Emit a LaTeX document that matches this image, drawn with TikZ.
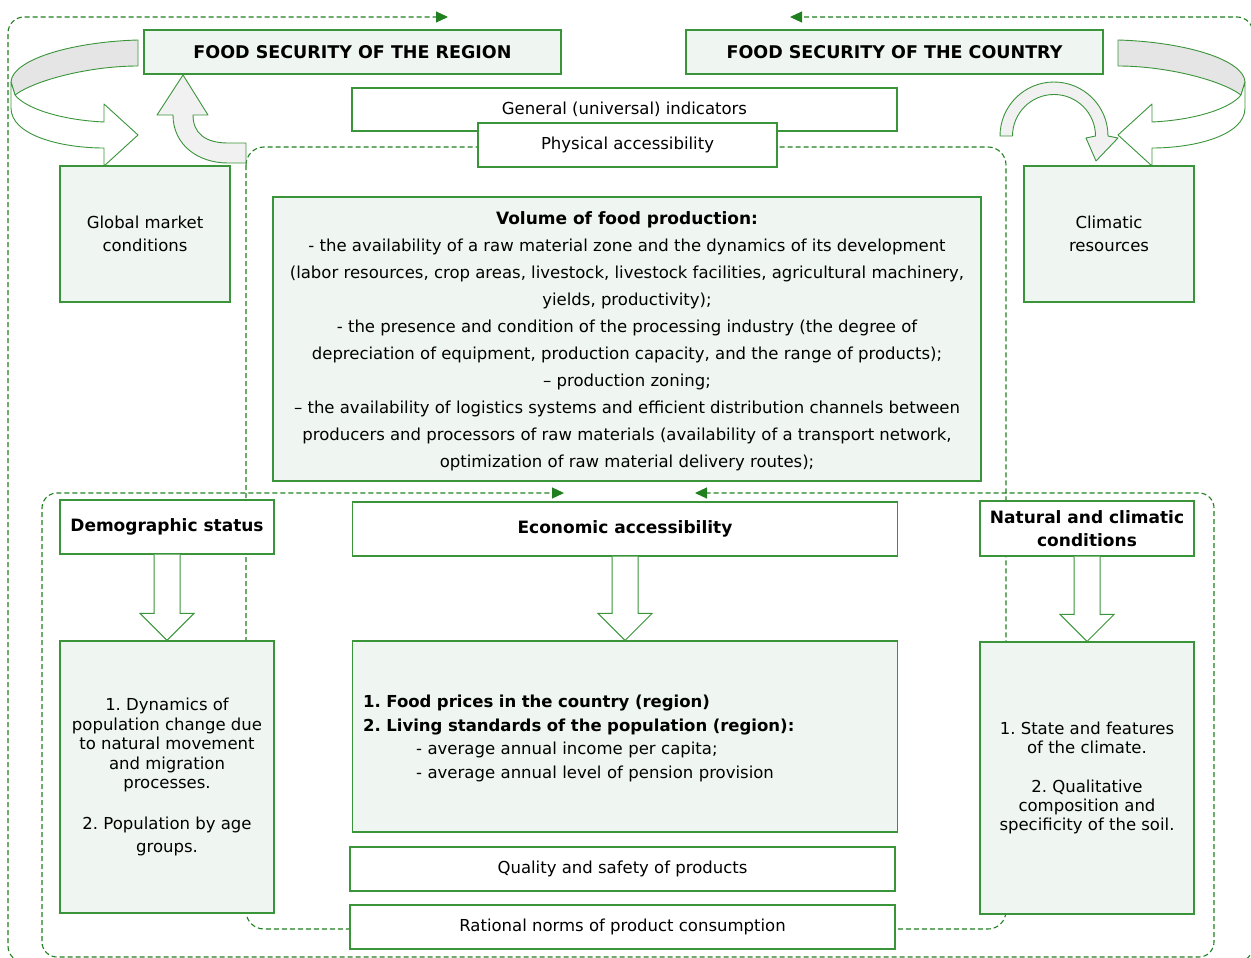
\documentclass[tikz,border=0pt]{standalone}
\usepackage{fontspec}
\setmainfont{DejaVu Sans}
\usetikzlibrary{arrows.meta,calc}
\definecolor{boxline}{RGB}{58,148,58}
\definecolor{boxfill}{RGB}{239,245,240}
\definecolor{dashgreen}{RGB}{32,128,32}
\definecolor{ribbonback}{RGB}{229,229,229}
\definecolor{ribbonlight}{RGB}{241,241,241}
\frenchspacing
\begin{document}
\begin{tikzpicture}[x=1pt,y=-1pt,
  box/.style={draw=boxline, line width=1.1pt, fill=white, inner sep=0pt, align=center,
    font=\fontsize{16.5}{20}\selectfont},
  tinted/.style={box, fill=boxfill},
  heading/.style={font=\bfseries\fontsize{17}{23}\selectfont},
  bigheading/.style={font=\bfseries\fontsize{17.5}{23}\selectfont},
  loopline/.style={draw=dashgreen, line width=1.1pt, dash pattern=on 5pt off 3pt},
  tip/.style={-{Triangle[length=12pt,width=11pt]}},
  blockarrow/.style={draw=boxline, line width=1pt, fill=white, line join=miter},
  ribbon/.style={draw=boxline, line width=0.9pt, line join=round},
]
\useasboundingbox (0,0) rectangle (1251,958);
\begin{scope}
\clip (0,0) rectangle (1251,958);

% dashed feedback loops
\coordinate (regtip) at (448,17);
\coordinate (ctrytip) at (790,17);
\coordinate (econtipL) at (564,493);
\coordinate (econtipR) at (695,493);
\draw[loopline, rounded corners=16pt, tip] (1253,100) -- (1253,962) -- (8,962) -- (8,17) -- (regtip);
\draw[loopline, rounded corners=16pt, tip] (1253,100) -- (1253,17) -- (ctrytip);
\draw[loopline, rounded corners=15pt, tip] (1214,700) -- (1214,957) -- (42,957) -- (42,493) -- (econtipL);
\draw[loopline, rounded corners=15pt, tip] (1214,700) -- (1214,493) -- (econtipR);
\draw[loopline, rounded corners=18pt] (246,147) rectangle (1006,929);

% left ribbon arrow: back band, then front band with head
\draw[ribbon, fill=ribbonback] (138,40) .. controls (70,42) and (12,60) .. (11,82)
  -- (15,95) .. controls (35,80) and (90,66) .. (138,66) -- cycle;
\draw[ribbon, fill=white] (11,82) -- (11,108) .. controls (11,135) and (60,148) .. (104,148)
  -- (104,166) -- (138,135) -- (104,104) -- (104,122)
  .. controls (60,120) and (25,108) .. (15,95) -- cycle;
% right ribbon arrow, mirrored
\begin{scope}[shift={(1256,0)}, xscale=-1]
\draw[ribbon, fill=ribbonback] (138,40) .. controls (70,42) and (12,60) .. (11,82)
  -- (15,95) .. controls (35,80) and (90,66) .. (138,66) -- cycle;
\draw[ribbon, fill=white] (11,82) -- (11,108) .. controls (11,135) and (60,148) .. (104,148)
  -- (104,166) -- (138,135) -- (104,104) -- (104,122)
  .. controls (60,120) and (25,108) .. (15,95) -- cycle;
\end{scope}
% bent arrow up to the region
\draw[ribbon, fill=ribbonlight] (246,143) -- (228,143) .. controls (205,143) and (193,133) .. (193,115)
  -- (208,115) -- (183,75) -- (157,115) -- (173,115)
  .. controls (173,145) and (198,163) .. (228,163) -- (246,163) -- cycle;
% arc arrow down to climatic resources
\draw[ribbon, fill=ribbonlight] (1000,136) .. controls (1000,106.2) and (1024.2,82) .. (1054,82)
  .. controls (1083.8,82) and (1108,106.2) .. (1108,136)
  -- (1118,138) -- (1096,161) -- (1086,138) -- (1095.5,136)
  .. controls (1095.5,113.1) and (1076.9,94.5) .. (1054,94.5)
  .. controls (1031.1,94.5) and (1012.5,113.1) .. (1012.5,136) -- cycle;

% boxes
\node[tinted, bigheading, minimum width=417, minimum height=44] (reg) at (352.5,52) {FOOD SECURITY OF THE REGION};
\node[tinted, bigheading, minimum width=417, minimum height=44] (ctry) at (894.5,52) {FOOD SECURITY OF THE COUNTRY};
\node[box, minimum width=545, minimum height=43] (gen) at (624.5,109.5) {General (universal) indicators};
\node[box, minimum width=299, minimum height=44] (phys) at (627.5,145) {Physical accessibility};
\node[tinted, minimum width=170, minimum height=136, font=\fontsize{16.5}{23}\selectfont] (glob) at (145,234) {Global market\\conditions};
\node[tinted, minimum width=170, minimum height=136, font=\fontsize{16.5}{23}\selectfont] (clim) at (1109,234) {Climatic\\resources};
\node[tinted, minimum width=708, minimum height=284] (vol) at (627,339) {};
\node[inner sep=0pt, align=center, font=\fontsize{16.5}{27}\selectfont] (voltext) at ($(vol.center)+(0,2)$)
  {{\fontsize{17}{27}\selectfont\bfseries Volume of food production:}\\
   - the availability of a raw material zone and the dynamics of its development\\
   (labor resources, crop areas, livestock, livestock facilities, agricultural machinery,\\
   yields, productivity);\\
   - the presence and condition of the processing industry (the degree of\\
   depreciation of equipment, production capacity, and the range of products);\\
   – production zoning;\\
   – the availability of logistics systems and efficient distribution channels between\\
   producers and processors of raw materials (availability of a transport network,\\
   optimization of raw material delivery routes);};
\node[box, heading, minimum width=214, minimum height=54] (demo) at (167,527) {Demographic status};
\node[box, heading, minimum width=545, minimum height=54] (econ) at (625,529) {Economic accessibility};
\node[box, heading, minimum width=214, minimum height=55] (nat) at (1087,528.5) {Natural and climatic\\conditions};
\node[tinted, minimum width=214, minimum height=272, font=\fontsize{16.5}{19.5}\selectfont] (demod) at (167,777)
  {1. Dynamics of\\population change due\\to natural movement\\and migration\\processes.\\[21pt]2. Population by age\\[3.5pt]groups.};
\node[tinted, minimum width=545, minimum height=191] (prices) at (625,736.5) {};
\node[inner sep=0pt, text width=523, align=left, font=\fontsize{16.5}{23.4}\selectfont, anchor=west] (pricestext) at ($(prices.west)+(11,2)$)
  {\textbf{1. Food prices in the country (region)}\\
   \textbf{2. Living standards of the population (region):}\\
   \hspace*{53pt}- average annual income per capita;\\
   \hspace*{53pt}- average annual level of pension provision};
\node[tinted, minimum width=214, minimum height=272, font=\fontsize{16.5}{19.2}\selectfont] (natd) at (1087,778)
  {1. State and features\\of the climate.\\[20pt]2. Qualitative\\composition and\\specificity of the soil.};
\node[box, minimum width=545, minimum height=44] (qual) at (622.5,869) {Quality and safety of products};
\node[box, minimum width=545, minimum height=44] (norms) at (622.5,927) {Rational norms of product consumption};

% block arrows from the three headings to their indicator boxes
\draw[blockarrow] ($(demo.south)+(-13,0)$) -- ($(demod.north)+(-13,-27)$) -- ($(demod.north)+(-27,-27)$)
  -- (demod.north) -- ($(demod.north)+(27,-27)$) -- ($(demod.north)+(13,-27)$) -- ($(demo.south)+(13,0)$);
\draw[blockarrow] ($(econ.south)+(-13,0)$) -- ($(prices.north)+(-13,-27)$) -- ($(prices.north)+(-27,-27)$)
  -- (prices.north) -- ($(prices.north)+(27,-27)$) -- ($(prices.north)+(13,-27)$) -- ($(econ.south)+(13,0)$);
\draw[blockarrow] ($(nat.south)+(-13,0)$) -- ($(natd.north)+(-13,-27)$) -- ($(natd.north)+(-27,-27)$)
  -- (natd.north) -- ($(natd.north)+(27,-27)$) -- ($(natd.north)+(13,-27)$) -- ($(nat.south)+(13,0)$);
\end{scope}
\end{tikzpicture}
\end{document}
